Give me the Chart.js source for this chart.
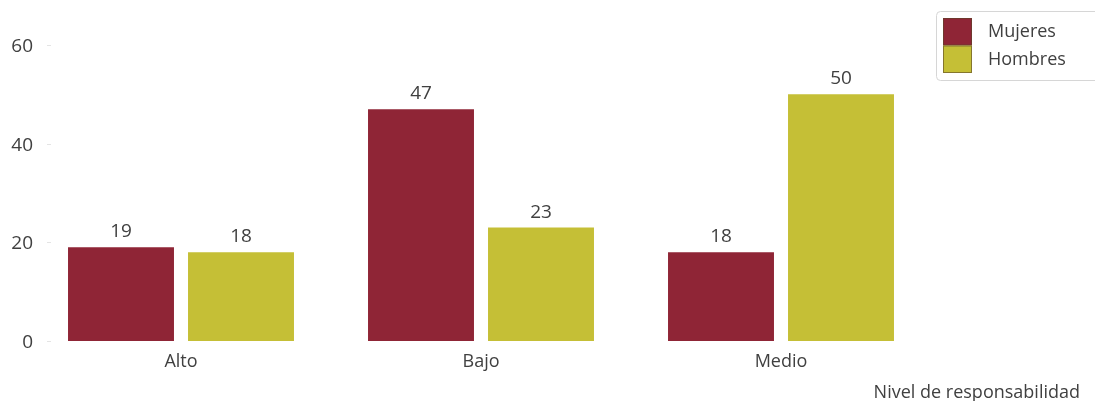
<!DOCTYPE html>
<html>
<head>
<meta charset="utf-8">
<script src="https://cdn.jsdelivr.net/npm/chart.js@4/dist/chart.umd.min.js"></script>
<style>
  html, body { margin: 0; padding: 0; background: #fff; }
  #wrap { width: 1095px; height: 401px; position: relative; }
</style>
</head>
<body>
<div id="wrap"><canvas id="chart"></canvas></div>
<script>
const categories = ["Alto", "Bajo", "Medio"];
const mujeres = [19, 47, 18];
const hombres = [18, 23, 50];
const yTicks = [0, 20, 40, 60];
const axisTitle = "Nivel de responsabilidad";

const FONT = "'Open Sans', 'Noto Sans', sans-serif";
const TEXT = "#404040";

// etiquetas de valor, eje y, título del eje x y leyenda
const extras = {
  id: "extras",
  afterDatasetsDraw(chart) {
    const ctx = chart.ctx;
    ctx.save();
    ctx.fillStyle = TEXT;
    ctx.font = "19px " + FONT;
    ctx.textAlign = "center";
    ctx.textBaseline = "alphabetic";
    chart.data.datasets.forEach((ds, i) => {
      chart.getDatasetMeta(i).data.forEach((bar, j) => {
        ctx.fillText(ds.data[j], bar.x, bar.y - 10);
      });
    });

    // etiquetas y marcas cortas del eje y
    const y = chart.scales.y;
    ctx.strokeStyle = "#e4e4e4";
    ctx.lineWidth = 1;
    ctx.textAlign = "right";
    ctx.textBaseline = "middle";
    yTicks.forEach(v => {
      const py = Math.round(y.getPixelForValue(v)) + 0.5;
      ctx.beginPath();
      ctx.moveTo(47, py);
      ctx.lineTo(51, py);
      ctx.stroke();
      ctx.fillText(v, 33, py + 1);
    });

    // título del eje
    ctx.textBaseline = "alphabetic";
    ctx.font = "18px " + FONT;
    ctx.fillText(axisTitle, 1080, 398);

    // leyenda
    ctx.strokeStyle = "#d6d6d6";
    ctx.beginPath();
    ctx.roundRect(936.5, 11.5, 170, 69, 4);
    ctx.fillStyle = "#fff";
    ctx.fill();
    ctx.stroke();
    ctx.textAlign = "left";
    ctx.textBaseline = "middle";
    chart.data.datasets.forEach((ds, i) => {
      const top = 18 + i * 27.5;
      ctx.fillStyle = ds.backgroundColor;
      ctx.fillRect(943, top, 29, 27.5);
      ctx.strokeStyle = "rgba(90,70,40,0.6)";
      ctx.strokeRect(943.5, top + 0.5, 28, 26.5);
      ctx.fillStyle = TEXT;
      ctx.fillText(ds.label, 988, top + 14);
    });
    ctx.restore();
  }
};

new Chart(document.getElementById("chart"), {
  type: "bar",
  data: {
    labels: categories,
    datasets: [
      { label: "Mujeres", data: mujeres, backgroundColor: "#8f2536" },
      { label: "Hombres", data: hombres, backgroundColor: "#c5bf36" }
    ]
  },
  options: {
    responsive: true,
    maintainAspectRatio: false,
    animation: false,
    layout: { padding: { top: 45, right: 164, left: 0, bottom: 0 } },
    datasets: { bar: { categoryPercentage: 0.8, barPercentage: 0.883 } },
    plugins: { legend: { display: false }, tooltip: { enabled: false } },
    scales: {
      x: {
        grid: { display: false },
        border: { display: false },
        ticks: { color: TEXT, font: { family: FONT, size: 18 }, padding: 2 },
        afterFit(scale) { scale.height = 60; }
      },
      y: {
        min: 0,
        max: 60,
        grid: { display: false, drawTicks: false },
        border: { display: false },
        ticks: { display: false },
        afterFit(scale) { scale.width = 31; }
      }
    }
  },
  plugins: [extras]
});
</script>
</body>
</html>
